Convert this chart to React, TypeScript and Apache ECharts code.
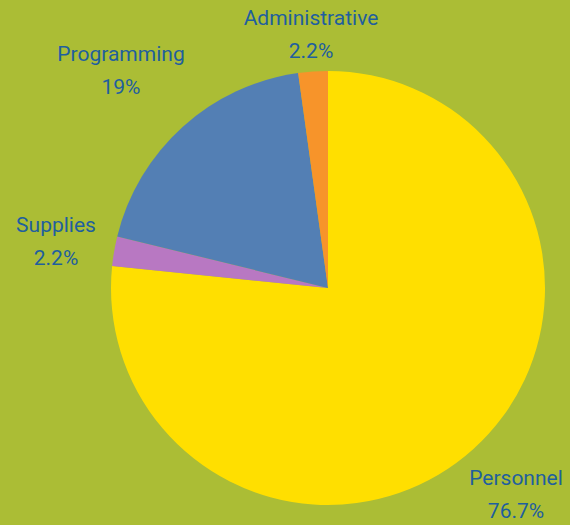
import React, { useEffect, useRef } from "react";
import * as echarts from "echarts";

const categories = ["Personnel", "Supplies", "Programming", "Administrative"];
const values = [76.7, 2.2, 19, 2.2];
const colors = ["#FFDF00", "#B878C2", "#537FB4", "#F7942A"];
const labelCenters: [number, number][] = [
  [516, 494],
  [56, 241],
  [121, 70],
  [311, 34],
];

export default function App() {
  const ref = useRef<HTMLDivElement>(null);
  useEffect(() => {
    document.body.style.margin = "0";
    const chart = echarts.init(ref.current!, null, { renderer: "svg" });
    chart.setOption({
      animation: false,
      backgroundColor: "#ABBD35",
      series: [
        {
          type: "pie",
          center: [328, 288],
          radius: [0, 217],
          startAngle: 90,
          clockwise: true,
          data: categories.map((name, i) => ({
            name,
            value: values[i],
            itemStyle: { color: colors[i] },
          })),
          label: {
            show: true,
            position: "outside",
            formatter: (p: any) => `${p.name}\n${p.value}%`,
            color: "#1F5F9E",
            fontSize: 21,
            lineHeight: 33,
            fontFamily: "Roboto",
            align: "center",
            overflow: "none",
            alignTo: "none",
          },
          labelLine: { show: false },
          labelLayout: (p: any) => ({
            x: labelCenters[p.dataIndex][0],
            y: labelCenters[p.dataIndex][1],
            align: "center",
            verticalAlign: "middle",
            hideOverlap: false,
          }),
          emphasis: { disabled: true },
        },
      ],
    });
    return () => chart.dispose();
  }, []);
  return <div ref={ref} style={{ width: 570, height: 525 }} />;
}
